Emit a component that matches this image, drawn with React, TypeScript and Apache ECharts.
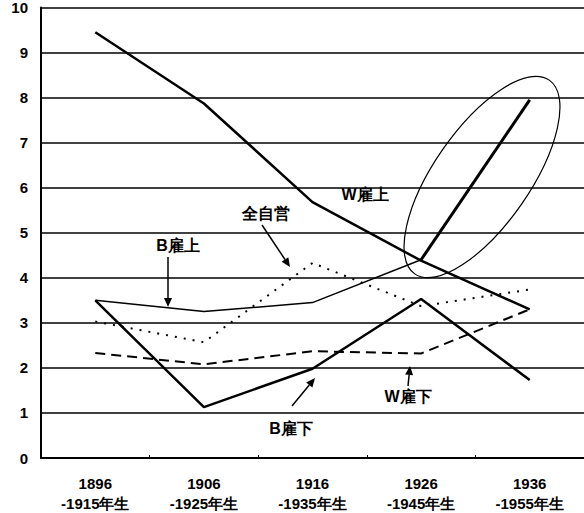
import React, { useEffect, useRef } from "react";
import * as echarts from "echarts";

const categories = [
  "1896\n-1915年生",
  "1906\n-1925年生",
  "1916\n-1935年生",
  "1926\n-1945年生",
  "1936\n-1955年生",
];
const yTicks = [0, 10, 1];
const wUpper = [9.45, 7.87, 5.68, 4.38, 3.3];
const bUpper = [3.5, 3.25, 3.45, 4.4, 7.95];
const bLower = [3.5, 1.13, 1.98, 3.53, 1.73];
const selfEmployed = [3.03, 2.57, 4.33, 3.37, 3.74];
const wLower = [2.33, 2.08, 2.37, 2.32, 3.3];

const FONT = "'Liberation Sans', Arial, sans-serif";

function arrow(x1: number, y1: number, x2: number, y2: number) {
  const ang = Math.atan2(y2 - y1, x2 - x1);
  const L = 9;
  const W = 4;
  const bx = x2 - L * Math.cos(ang);
  const by = y2 - L * Math.sin(ang);
  const px = -Math.sin(ang) * W;
  const py = Math.cos(ang) * W;
  return [
    {
      type: "line",
      shape: { x1, y1, x2: bx, y2: by },
      style: { stroke: "#000", lineWidth: 1.5 },
    },
    {
      type: "polygon",
      shape: {
        points: [
          [x2, y2],
          [bx + px, by + py],
          [bx - px, by - py],
        ],
      },
      style: { fill: "#000" },
    },
  ];
}

function label(text: string, x: number, y: number) {
  return {
    type: "text",
    x,
    y,
    style: {
      text,
      fill: "#000",
      font: `bold 16px ${FONT}`,
      textAlign: "center",
      textVerticalAlign: "middle",
    },
  };
}

export default function App() {
  const ref = useRef<HTMLDivElement>(null);
  useEffect(() => {
    if (!ref.current) return;
    const chart = echarts.init(ref.current, undefined, { renderer: "svg" });
    const base = { type: "line", symbol: "none", silent: true };
    chart.setOption({
      animation: false,
      backgroundColor: "#fff",
      grid: { left: 41, right: -5, top: 7, bottom: 52 },
      xAxis: {
        type: "category",
        data: categories,
        boundaryGap: true,
        axisLine: { lineStyle: { color: "#000", width: 2 } },
        axisTick: { show: true, inside: true, length: 3, lineStyle: { color: "#000" } },
        axisLabel: {
          color: "#000",
          fontWeight: "bold",
          fontSize: 15,
          lineHeight: 20,
          fontFamily: FONT,
          margin: 15,
        },
        splitLine: { show: false },
      },
      yAxis: {
        type: "value",
        min: yTicks[0],
        max: yTicks[1],
        interval: yTicks[2],
        axisLine: { show: true, lineStyle: { color: "#000", width: 2 } },
        axisTick: { show: false },
        axisLabel: {
          color: "#000",
          fontWeight: "bold",
          fontSize: 15,
          fontFamily: FONT,
          margin: 13,
        },
        splitLine: { show: true, lineStyle: { color: "#000", width: 1.5 } },
      },
      series: [
        { ...base, name: "W雇上", data: wUpper, lineStyle: { color: "#000", width: 2.5 } },
        {
          ...base,
          name: "B雇上",
          data: bUpper.map((v, i) => (i < 4 ? v : null)),
          lineStyle: { color: "#000", width: 1.5 },
        },
        {
          ...base,
          name: "B雇上(1936)",
          data: bUpper.map((v, i) => (i >= 3 ? v : null)),
          lineStyle: { color: "#000", width: 3 },
        },
        { ...base, name: "B雇下", data: bLower, lineStyle: { color: "#000", width: 2.5 } },
        {
          ...base,
          name: "全自営",
          data: selfEmployed,
          lineStyle: { color: "#000", width: 2, type: [2, 7] },
        },
        {
          ...base,
          name: "W雇下",
          data: wLower,
          lineStyle: { color: "#000", width: 2, type: [10, 6] },
        },
      ],
      graphic: [
        {
          type: "ellipse",
          x: 482,
          y: 177,
          rotation: 0.964,
          shape: { cx: 0, cy: 0, rx: 118, ry: 48 },
          style: { fill: "none", stroke: "#000", lineWidth: 1.2 },
        },
        label("W雇上", 365, 194),
        label("全自営", 266, 213),
        label("B雇上", 178, 245),
        label("W雇下", 408, 396),
        label("B雇下", 291, 428),
        ...arrow(262, 225, 290, 267),
        ...arrow(168, 257, 168, 307),
        ...arrow(408, 386, 410, 366),
        ...arrow(292, 406, 315, 378),
      ],
    });
    return () => chart.dispose();
  }, []);
  return (
    <div
      ref={ref}
      style={{ position: "absolute", left: 0, top: 0, width: 584, height: 513 }}
    />
  );
}
